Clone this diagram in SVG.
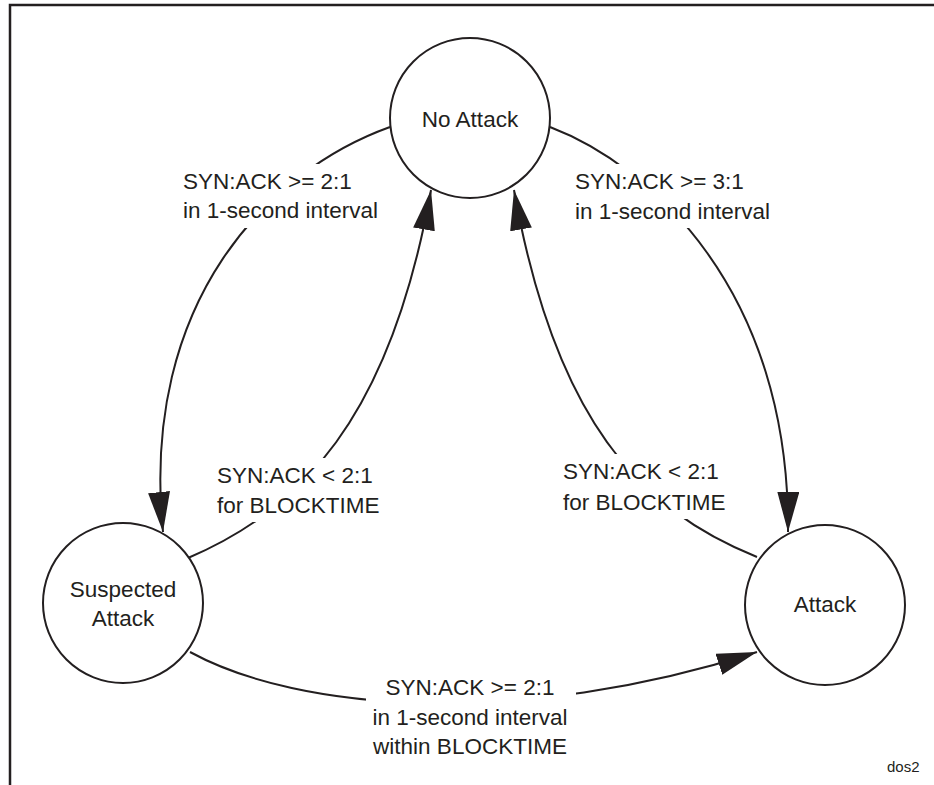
<svg xmlns="http://www.w3.org/2000/svg" width="934" height="785" viewBox="0 0 934 785">
<style>
.frame{stroke:#231f20;stroke-width:2.5;fill:none}
.edge{stroke:#231f20;stroke-width:2;fill:none}
.node{stroke:#231f20;stroke-width:2;fill:#fff}
text{font-family:"Liberation Sans",Arial,sans-serif;font-size:22.5px;fill:#231f20}
.c{text-anchor:middle}
.bg{fill:#fff;stroke:none}
</style>
<defs>
<marker id="arrow" markerUnits="userSpaceOnUse" markerWidth="42" markerHeight="24" refX="40" refY="11" orient="auto">
<path d="M0,0 L40,11 L0,22 z" fill="#231f20"/>
</marker>
</defs>
<rect width="934" height="785" fill="#fff"/>
<path class="frame" d="M10,785 L10,5 L934,5"/>
<g id="connectors">
<path id="e1" class="edge" d="M390,127 C270,170 140,300 163,532" marker-end="url(#arrow)"/>
<path id="e2" class="edge" d="M188,558 C300,510 390,420 431,190" marker-end="url(#arrow)"/>
<path id="e3" class="edge" d="M550,127 C650,165 790,290 788,532" marker-end="url(#arrow)"/>
<path id="e4" class="edge" d="M757,557 C640,510 555,420 514,190" marker-end="url(#arrow)"/>
<path id="e5" class="edge" d="M190,652 C300,712 520,728 757,652" marker-end="url(#arrow)"/>
</g>
<g id="labels">
<rect class="bg" x="178" y="164" width="212" height="64"/>
<text x="183" y="189">SYN:ACK &gt;= 2:1</text>
<text x="183" y="218">in 1-second interval</text>
<rect class="bg" x="570" y="164" width="212" height="64"/>
<text x="575" y="189">SYN:ACK &gt;= 3:1</text>
<text x="575" y="219">in 1-second interval</text>
<rect class="bg" x="212" y="458" width="170" height="64"/>
<text x="217" y="483">SYN:ACK &lt; 2:1</text>
<text x="217" y="513">for BLOCKTIME</text>
<rect class="bg" x="558" y="454" width="170" height="65"/>
<text x="563" y="479">SYN:ACK &lt; 2:1</text>
<text x="563" y="510">for BLOCKTIME</text>
<rect class="bg" x="366" y="674" width="210" height="88"/>
<text class="c" x="470" y="695">SYN:ACK &gt;= 2:1</text>
<text class="c" x="470" y="725">in 1-second interval</text>
<text class="c" x="470" y="754">within BLOCKTIME</text>
</g>
<g id="node-no-attack">
<circle class="node" cx="470" cy="118" r="80"/>
<text class="c" x="470" y="127">No Attack</text>
</g>
<g id="node-suspected-attack">
<circle class="node" cx="123" cy="603" r="80"/>
<text class="c" x="123" y="597">Suspected</text>
<text class="c" x="123" y="626">Attack</text>
</g>
<g id="node-attack">
<circle class="node" cx="825" cy="605" r="80"/>
<text class="c" x="825" y="612">Attack</text>
</g>
<text x="887" y="772" style="font-size:15px">dos2</text>
</svg>
